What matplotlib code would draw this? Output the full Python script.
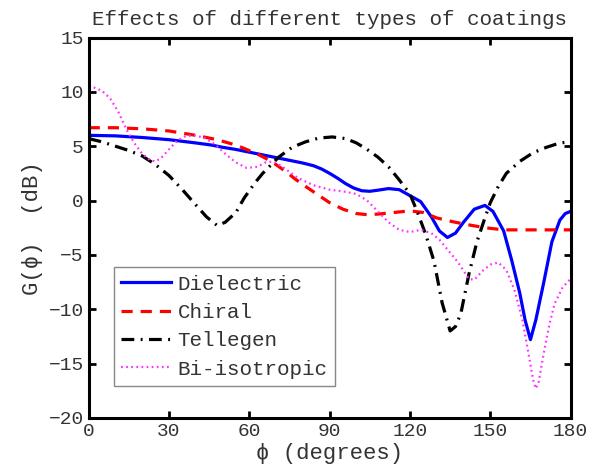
import matplotlib
matplotlib.use("Agg")
import matplotlib.pyplot as plt

# values (phi in degrees, gain in dB)
diel_x = [0, 10, 20, 30, 40, 46, 50, 55, 58, 62, 66, 71, 76, 80, 84, 87, 90, 93, 96, 99,
          102, 105, 108, 112, 116, 120, 124, 128, 131, 134, 137, 140, 144, 148, 151, 155,
          158, 161, 163, 165, 167, 170, 173, 176, 178, 180]
diel_y = [6.0, 5.95, 5.8, 5.6, 5.3, 5.1, 4.9, 4.7, 4.55, 4.35, 4.15, 3.9, 3.65, 3.45, 3.2,
          2.9, 2.5, 2.05, 1.55, 1.15, 0.9, 0.85, 0.95, 1.1, 1.0, 0.45, -0.1, -1.5, -2.8,
          -3.4, -3.0, -2.0, -0.8, -0.45, -1.0, -2.8, -5.5, -8.5, -11.0, -12.8, -11.0, -7.5,
          -3.8, -1.8, -1.2, -1.0]

chir_x = [0, 10, 20, 30, 40, 48, 55, 62, 66, 70, 74, 77, 81, 84, 87, 90, 95, 100, 104,
          108, 114, 120, 125, 130, 136, 141, 148, 155, 165, 180]
chir_y = [6.7, 6.7, 6.6, 6.4, 6.0, 5.6, 5.1, 4.4, 3.9, 3.3, 2.6, 2.0, 1.3, 0.8, 0.3, -0.2,
          -0.8, -1.2, -1.3, -1.25, -1.1, -0.95, -1.1, -1.6, -1.95, -2.2, -2.5, -2.7, -2.7,
          -2.7]

tell_x = [0, 5, 10, 15, 20, 25, 30, 35, 40, 44, 48, 51, 55, 58, 62, 65, 71, 76, 81, 86,
          91, 96, 100, 104, 108, 112, 116, 120, 123, 126, 129, 132, 135, 137, 139, 142,
          145, 148, 150, 153, 156, 161, 166, 171, 176, 180]
tell_y = [5.7, 5.4, 5.0, 4.6, 4.1, 3.3, 2.3, 1.0, -0.4, -1.5, -2.3, -2.0, -1.1, 0.2, 1.6,
          2.5, 4.0, 4.9, 5.4, 5.75, 5.85, 5.7, 5.3, 4.7, 4.0, 3.1, 1.9, 0.6, -1.2, -3.2,
          -5.6, -9.4, -12.0, -11.6, -10.4, -6.8, -3.8, -1.6, -0.2, 1.3, 2.5, 3.6, 4.4, 4.9,
          5.3, 5.4]

biso_x = [0, 2, 5, 8, 11, 14, 17, 20, 23, 25, 27, 30, 33, 36, 39, 43, 47, 51, 55, 59, 63,
          66, 69, 73, 78, 84, 90, 96, 100, 104, 108, 112, 116, 120, 124, 128, 131, 134,
          138, 142, 144, 147, 150, 153, 156, 159, 162, 164, 166, 167, 168, 170, 172, 174,
          177, 180]
biso_y = [10.5, 10.4, 10.1, 9.4, 8.2, 6.6, 5.3, 4.3, 3.7, 3.6, 3.9, 4.7, 5.5, 5.9, 6.0,
          5.8, 5.2, 4.3, 3.5, 3.0, 3.1, 3.5, 3.6, 3.0, 2.1, 1.4, 1.0, 0.8, 0.6, 0.0, -1.0,
          -2.0, -2.7, -2.9, -2.7, -3.0, -3.6, -4.5, -5.7, -7.2, -7.3, -6.5, -5.9, -5.7,
          -6.4, -8.2, -11.0, -13.7, -16.5, -17.3, -16.8, -14.0, -11.5, -9.5, -8.0, -7.2]

plt.rcParams["font.family"] = ["Liberation Mono", "DejaVu Sans Mono"]

fig = plt.figure(figsize=(5.95, 4.69), dpi=100)
ax = fig.add_axes([0.149, 0.109, 0.810, 0.811])

ax.plot(diel_x, diel_y, color="#0000ff", lw=2.3, label="Dielectric")
ax.plot(chir_x, chir_y, color="#ff0000", lw=2.3, ls=(0, (3.5, 2.5)), label="Chiral")
ax.plot(tell_x, tell_y, color="black", lw=2.3, ls=(0, (4, 2, 0.6, 2)), label="Tellegen")
ax.plot(biso_x, biso_y, color="#ff33ff", lw=1.6, ls=(0, (0.8, 1.5)), label="Bi-isotropic")

ax.set_xlim(0, 180)
ax.set_ylim(-20, 15)
ax.set_xticks(range(0, 181, 30))
ax.set_yticks(range(-20, 16, 5))
ax.tick_params(direction="in", top=True, right=True, length=5, width=2,
               labelsize=14, colors="black", labelcolor="#333333")
for s in ax.spines.values():
    s.set_linewidth(2.2)

ax.set_title("Effects of different types of coatings", fontsize=15, color="#333333", pad=9)
ax.set_xlabel("ϕ (degrees)", fontsize=16, color="#333333", labelpad=2)
ax.set_ylabel("G(ϕ)  (dB)", fontsize=16, color="#333333", labelpad=4)

leg = ax.legend(loc="lower left", bbox_to_anchor=(0.053, 0.084), borderaxespad=0,
                fontsize=15, handlelength=2.4, fancybox=False, framealpha=1,
                edgecolor="#888888", borderpad=0.35, labelspacing=0.45, handletextpad=0.3)
for t in leg.get_texts():
    t.set_color("#333333")

fig.savefig("out.png", dpi=100)
